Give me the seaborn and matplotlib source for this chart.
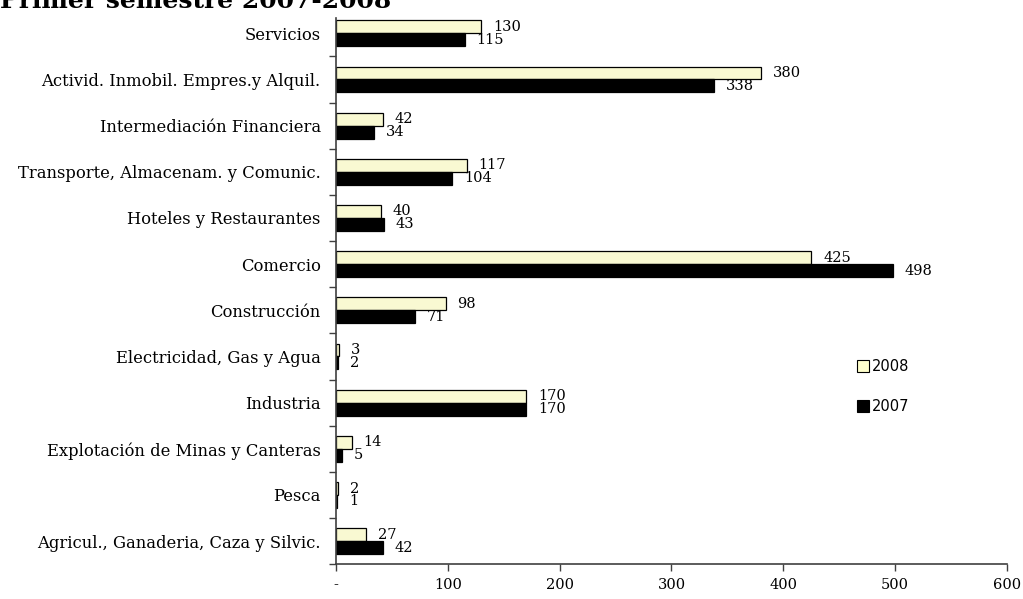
import numpy as np
import pandas as pd
import matplotlib
matplotlib.use('Agg')
import matplotlib.pyplot as plt
from matplotlib.lines import Line2D
from matplotlib.ticker import FixedLocator
import seaborn as sns

sns.set_style("white")
plt.rcParams['font.family'] = ['DejaVu Serif']
plt.rcParams['text.color'] = 'black'
plt.rcParams['xtick.color'] = 'black'
plt.rcParams['ytick.color'] = 'black'

# Data
sectores = [
    'Servicios',
    'Activid. Inmobil. Empres.y Alquil.',
    'Intermediación Financiera',
    'Transporte, Almacenam. y Comunic.',
    'Hoteles y Restaurantes',
    'Comercio',
    'Construcción',
    'Electricidad, Gas y Agua',
    'Industria',
    'Explotación de Minas y Canteras',
    'Pesca',
    'Agricul., Ganaderia, Caza y Silvic.',
]
valores_2008 = [130, 380, 42, 117, 40, 425, 98, 3, 170, 14, 2, 27]
valores_2007 = [115, 338, 34, 104, 43, 498, 71, 2, 170, 5, 1, 42]
anios = ['2008', '2007']
colores = {'2008': '#FFFFCC', '2007': '#000000'}
xticks = [0, 100, 200, 300, 400, 500, 600]
xtick_labels = ['-', '100', '200', '300', '400', '500', '600']
titulo = 'Primer semestre 2007-2008'

df = pd.DataFrame({
    'sector': sectores * 2,
    'valor': valores_2008 + valores_2007,
    'anio': ['2008'] * len(sectores) + ['2007'] * len(sectores),
})

fig = plt.figure(figsize=(10.23, 5.99), dpi=100)
ax = fig.add_axes([0.3284, 0.058, 0.656, 0.925])

sns.barplot(data=df, x='valor', y='sector', hue='anio', hue_order=anios,
            order=sectores, palette=colores, width=0.56, dodge=True,
            edgecolor='black', linewidth=0.9, legend=False, ax=ax)

# value labels at the end of each bar
for cont in ax.containers:
    for bar in cont:
        w = bar.get_width()
        yc = bar.get_y() + bar.get_height() / 2
        ax.annotate(f'{w:.0f}', xy=(w, yc), xytext=(8.5, 0),
                    textcoords='offset points', ha='left', va='center',
                    fontsize=10.5, color='black')

ax.set_xlim(0, 600)
ax.set_ylim(len(sectores) - 0.5, -0.5)
ax.set_xticks(xticks)
ax.set_xticklabels(xtick_labels, fontsize=10.5)
ax.tick_params(axis='x', direction='out', length=5, width=1, pad=5,
               color='#404040', bottom=True)

# y ticks: labels at category centers, tick marks between categories
ax.tick_params(axis='y', which='major', length=0, pad=11, labelsize=11.8)
ax.yaxis.set_minor_locator(FixedLocator(np.arange(0.5, len(sectores), 1.0)))
ax.tick_params(axis='y', which='minor', direction='out', length=5, width=1,
               color='#404040', left=True)

ax.set_xlabel('')
ax.set_ylabel('')
for s in ['top', 'right']:
    ax.spines[s].set_visible(False)
for s in ['left', 'bottom']:
    ax.spines[s].set_color('#404040')
    ax.spines[s].set_linewidth(1.2)
# the left axis line starts just below the title
ax.spines['left'].set_bounds(len(sectores) - 0.5, -0.32)
ax.grid(False)

handles = [Line2D([0], [0], marker='s', linestyle='none', markersize=8,
                  markerfacecolor=colores[a], markeredgecolor='black',
                  markeredgewidth=0.8, label=a) for a in anios]
fig.legend(handles=handles, loc='center left', bbox_to_anchor=(0.824, 0.355),
           frameon=False, labelspacing=1.7, handletextpad=0.1,
           handlelength=1.0, prop={'family': 'DejaVu Sans', 'size': 10.5})

fig.text(0.0, 1.0 - 1 / 599, titulo, fontsize=18, fontweight='bold',
         ha='left', va='center')

fig.savefig('out.png', dpi=100)
